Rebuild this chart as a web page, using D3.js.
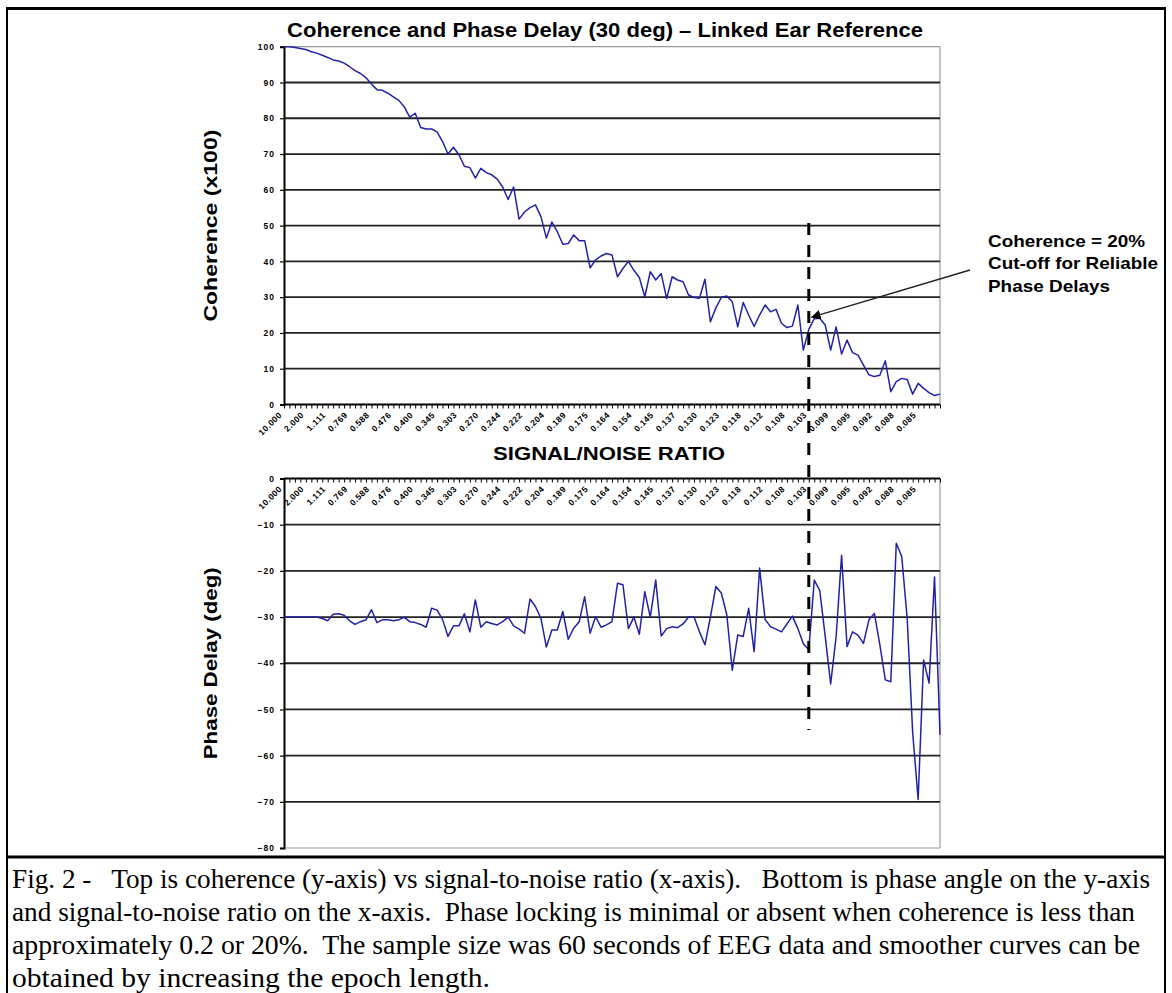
<!DOCTYPE html>
<html><head><meta charset="utf-8">
<script src="https://cdn.jsdelivr.net/npm/d3@7"></script>
<style>body{margin:0;background:#fff}svg{display:block}</style>
</head><body>
<svg id="c" width="1172" height="993"></svg>
<script>
// ---- data ----
const snrLabels = ["10.000","2.000","1.111","0.769","0.588","0.476","0.400","0.345","0.303","0.270",
  "0.244","0.222","0.204","0.189","0.175","0.164","0.154","0.145","0.137","0.130",
  "0.123","0.118","0.112","0.108","0.103","0.099","0.095","0.092","0.088","0.085"];
const coherence = [100,100,99.8,99.5,99.2,98.6,98.2,97.6,97.0,96.3,
  96.0,95.4,94.4,93.3,92.5,91.3,89.6,88.0,87.8,87.0,
  86.0,85.0,83.2,80.3,81.4,77.4,77.0,77.0,76.2,73.5,
  70.0,71.9,69.8,66.6,66.2,63.3,66.0,64.8,64.2,63.0,
  60.8,57.3,60.8,51.8,53.8,55.0,55.8,52.5,46.5,51.0,
  48.3,44.8,45.0,47.4,45.8,45.8,38.2,40.4,41.5,42.2,
  41.8,35.7,38.0,40.0,37.5,35.5,30.1,37.1,34.8,36.6,
  29.6,35.7,34.8,34.3,30.6,29.9,29.7,35.0,23.1,27.0,
  29.9,30.3,28.7,21.7,28.5,25.0,21.8,25.0,27.8,25.9,
  26.6,22.7,21.5,21.9,27.8,15.2,21.0,24.0,24.1,22.2,
  15.2,21.7,14.1,18.0,14.5,13.8,11.0,8.3,7.8,8.2,
  12.2,3.6,6.4,7.3,7.0,2.9,5.9,4.5,3.3,2.5,2.9];
const phase = [-30,-30,-30,-30,-30,-30,-30,-30.3,-30.8,-29.4,
  -29.3,-29.6,-30.8,-31.6,-31.0,-30.6,-28.4,-31.2,-30.6,-30.6,
  -30.8,-30.6,-30.0,-31.0,-31.2,-31.6,-32.2,-28.1,-28.5,-30.5,
  -34.2,-31.9,-31.9,-29.3,-33.2,-26.3,-32.2,-31.0,-31.4,-31.7,
  -31.0,-30.0,-31.9,-32.6,-33.5,-26.1,-27.7,-30.3,-36.5,-32.8,
  -32.8,-28.8,-34.8,-32.4,-31.0,-25.6,-33.5,-29.9,-32.2,-31.7,
  -31.0,-22.7,-23.0,-32.5,-30.0,-33.7,-24.5,-30.0,-22.0,-34.1,
  -32.5,-32.1,-32.3,-31.5,-30.0,-30.0,-33.2,-36.0,-30.0,-23.4,
  -24.8,-29.5,-41.5,-33.9,-34.2,-28.1,-37.5,-19.4,-30.5,-32.1,
  -32.6,-33.2,-31.5,-29.8,-32.5,-35.8,-37.1,-22.0,-24.2,-34.2,
  -44.5,-34.2,-16.6,-36.4,-33.2,-33.9,-35.7,-30.6,-29.2,-36.0,
  -43.6,-44.0,-14.0,-16.9,-30.3,-55.0,-69.5,-39.3,-44.3,-21.3,-55.5];
const cohTicks = [0,10,20,30,40,50,60,70,80,90,100];
const phaseTicks = [0,-10,-20,-30,-40,-50,-60,-70,-80];
const cutoffIndex = 96;
const titleText = "Coherence and Phase Delay (30 deg) \u2013 Linked Ear Reference";
const noteLines = ["Coherence = 20%","Cut-off for Reliable","Phase Delays"];
const captionLines = [
  "Fig. 2 -   Top is coherence (y-axis) vs signal-to-noise ratio (x-axis).   Bottom is phase angle on the y-axis",
  "and signal-to-noise ratio on the x-axis.  Phase locking is minimal or absent when coherence is less than",
  "approximately 0.2 or 20%.  The sample size was 60 seconds of EEG data and smoother curves can be",
  "obtained by increasing the epoch length."];

// ---- layout ----
const svg = d3.select("#c");
const W = 1172, H = 993;
const X0 = 284, X1 = 940;
const categories = coherence.map((_, i) => i);
const x = d3.scalePoint().domain(categories).range([X0, X1]);
const yTop = d3.scaleLinear().domain([0, 100]).range([404.5, 46.7]);
const yBot = d3.scaleLinear().domain([-80, 0]).range([848, 478.5]);
const SANS = "'Liberation Sans', Arial, sans-serif";
const lineColor = "#2222a8";

// outer frame
svg.append("rect").attr("x",7).attr("y",8).attr("width",1158).attr("height",H+10)
  .attr("fill","none").attr("stroke","#000").attr("stroke-width",2);
svg.append("line").attr("x1",7).attr("x2",1165).attr("y1",8.5).attr("y2",8.5).attr("stroke","#000").attr("stroke-width",3);
svg.append("line").attr("x1",7).attr("x2",1165).attr("y1",857).attr("y2",857).attr("stroke","#000").attr("stroke-width",3);

// title
svg.append("text").attr("x",605).attr("y",37).attr("text-anchor","middle")
  .attr("font-family",SANS).attr("font-weight","bold").attr("font-size",20)
  .attr("textLength",636).attr("lengthAdjust","spacingAndGlyphs").text(titleText);

function panel(y, ticks, gridVals, axisY, frameY, values, yLabel) {
  const g = svg.append("g");
  g.append("line").attr("x1",X0).attr("x2",X1).attr("y1",frameY).attr("y2",frameY).attr("stroke","#9a9a9a").attr("stroke-width",1.2);
  g.append("line").attr("x1",X1).attr("x2",X1).attr("y1",Math.min(y.range()[0],y.range()[1])).attr("y2",Math.max(y.range()[0],y.range()[1])).attr("stroke","#9a9a9a").attr("stroke-width",1.2);
  g.selectAll("line.grid").data(gridVals).join("line").attr("class","grid")
    .attr("x1",X0).attr("x2",X1).attr("y1",d=>y(d)).attr("y2",d=>y(d))
    .attr("stroke","#222").attr("stroke-width",1.8);
  const ya = g.append("g").attr("transform",`translate(${X0},0)`)
    .call(d3.axisLeft(y).tickValues(ticks).tickSize(4).tickFormat(d3.format("d")));
  ya.select(".domain").attr("stroke","#000").attr("stroke-width",2);
  ya.selectAll(".tick line").attr("stroke","#000").attr("stroke-width",1.2);
  ya.selectAll(".tick text").attr("font-family",SANS).attr("font-weight","bold").attr("font-size",8.5)
    .attr("letter-spacing",1).attr("x",-9);
  const xa = g.append("g").attr("transform",`translate(0,${axisY})`)
    .call(d3.axisBottom(x).tickValues(categories).tickSize(4)
      .tickFormat(d => d % 4 === 0 ? snrLabels[d/4] : ""));
  xa.select(".domain").attr("stroke","#000").attr("stroke-width",2).attr("d",`M${X0},0H${X1}`);
  xa.selectAll(".tick line").attr("stroke","#000").attr("stroke-width",1);
  xa.selectAll(".tick text").attr("font-family",SANS).attr("font-weight","bold").attr("font-size",8.5)
    .attr("letter-spacing",0.5).attr("text-anchor","end")
    .attr("x",0).attr("y",0).attr("dy",0)
    .attr("transform","translate(-2,11) rotate(-45)");
  g.append("path").datum(values)
    .attr("d", d3.line().x((d,i)=>x(i)).y(d=>y(d)))
    .attr("fill","none").attr("stroke",lineColor).attr("stroke-width",1.5).attr("stroke-linejoin","round");
  const yc = (y.range()[0]+y.range()[1])/2;
  g.append("text").attr("transform",`translate(217,${yc}) rotate(-90)`).attr("text-anchor","middle")
    .attr("font-family",SANS).attr("font-weight","bold").attr("font-size",19)
    .attr("textLength",192).attr("lengthAdjust","spacingAndGlyphs").text(yLabel);
}

panel(yTop, cohTicks, [10,20,30,40,50,60,70,80,90], yTop(0), yTop(100), coherence, "Coherence (x100)");
panel(yBot, phaseTicks, [-10,-20,-30,-40,-50,-60,-70], yBot(0), yBot(-80), phase, "Phase Delay (deg)");

svg.append("text").attr("x",609).attr("y",460).attr("text-anchor","middle")
  .attr("font-family",SANS).attr("font-weight","bold").attr("font-size",18.5)
  .attr("textLength",232).attr("lengthAdjust","spacingAndGlyphs").text("SIGNAL/NOISE RATIO");

svg.append("line").attr("x1",x(cutoffIndex)).attr("x2",x(cutoffIndex)).attr("y1",223).attr("y2",730)
  .attr("stroke","#000").attr("stroke-width",3).attr("stroke-dasharray","12,10");

svg.append("defs").append("marker").attr("id","ah").attr("viewBox","0 0 10 10").attr("refX",9).attr("refY",5)
  .attr("markerWidth",7).attr("markerHeight",7).attr("orient","auto")
  .append("path").attr("d","M0,0L10,5L0,10z").attr("fill","#000");
svg.append("line").attr("x1",970).attr("y1",270).attr("x2",x(cutoffIndex)+3).attr("y2",yTop(24.4))
  .attr("stroke","#222").attr("stroke-width",1.4).attr("marker-end","url(#ah)");
const noteW = [157,170,122];
svg.selectAll("text.note").data(noteLines).join("text").attr("class","note")
  .attr("x",988).attr("y",(d,i)=>246.5+i*22.5)
  .attr("font-family",SANS).attr("font-weight","bold").attr("font-size",17)
  .attr("textLength",(d,i)=>noteW[i]).attr("lengthAdjust","spacingAndGlyphs").text(d=>d);

const capW = [1138,1123,1128,478];
svg.selectAll("text.cap").data(captionLines).join("text").attr("class","cap")
  .attr("x",12).attr("y",(d,i)=>888+i*33)
  .attr("font-family","'Liberation Serif','Times New Roman',serif").attr("font-size",27)
  .attr("textLength",(d,i)=>capW[i]).attr("lengthAdjust","spacingAndGlyphs")
  .attr("xml:space","preserve").text(d=>d);
</script>
</body></html>
